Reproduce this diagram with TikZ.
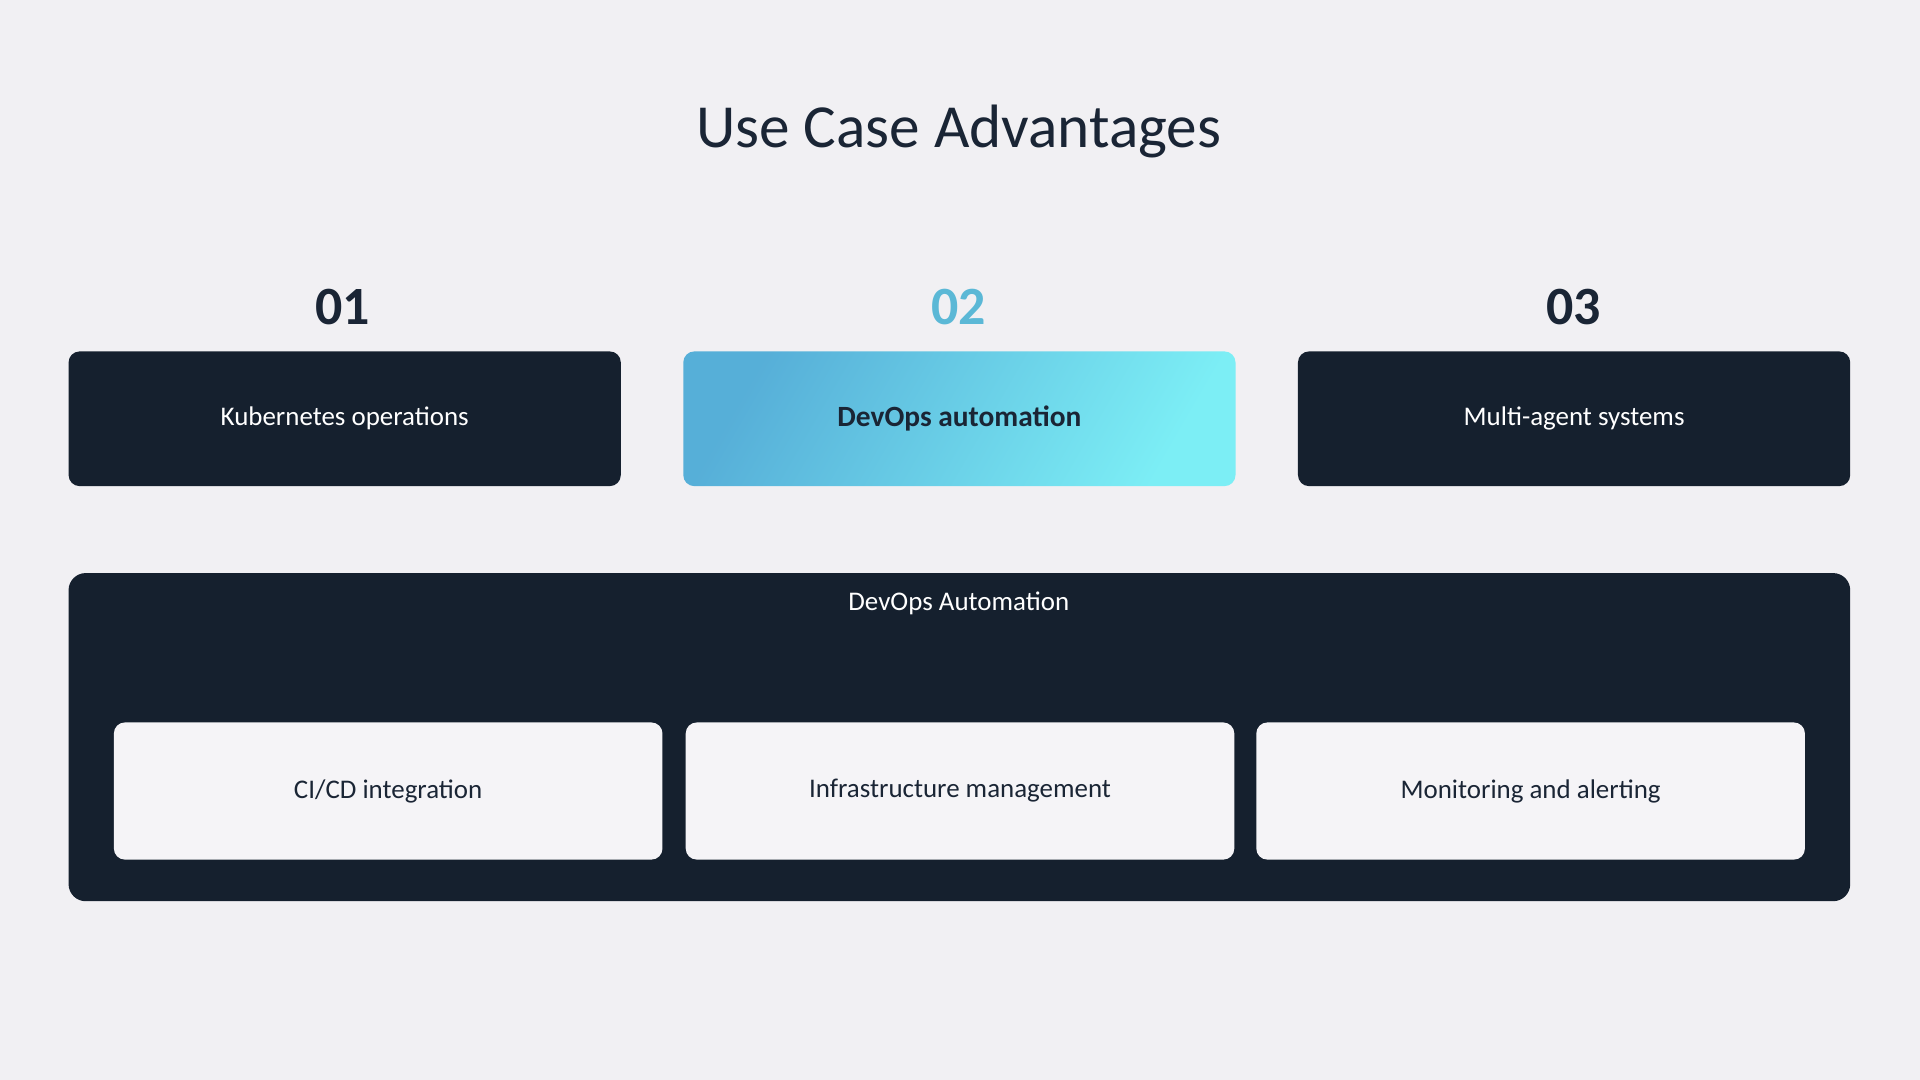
\documentclass[tikz,border=0pt]{standalone}
\usepackage{fontspec}
\setmainfont{Carlito}
\definecolor{bg}{HTML}{F1F0F3}
\definecolor{navy}{HTML}{15202E}
\definecolor{ink}{HTML}{1A2535}
\definecolor{teal}{HTML}{5BB8D6}
\definecolor{card}{HTML}{F5F4F7}
\begin{document}
\begin{tikzpicture}[x=1pt,y=-1pt,
  dark/.style={draw=none,fill=navy,rounded corners=9pt,minimum width=451pt,minimum height=110pt,text=white,font=\fontsize{22}{26}\selectfont},
  num/.style={font=\fontsize{44}{50}\selectfont\bfseries,text=ink},
  inner/.style={draw=none,fill=card,rounded corners=9pt,minimum width=448pt,minimum height=112pt,text=ink,font=\fontsize{22}{26}\selectfont}]
\path[use as bounding box,fill=bg] (0,0) rectangle (1568,882);
\node[font=\fontsize{50}{58}\selectfont,text=ink] (title) at (783,107) {Use Case Advantages};
\node[num] (n1) at (280,251) {01};
\node[num,text=teal] (n2) at (783,251) {02};
\node[num] (n3) at (1285,251) {03};
\node[dark] (b1) at (281.5,342) {Kubernetes operations};
\node[dark,fill=none,left color=teal!95!blue,right color=teal!40!cyan!60!white,shading angle=60,text=ink,font=\fontsize{24}{28}\selectfont\bfseries] (b2) at (783.5,342) {DevOps automation};
\node[dark] (b3) at (1285.5,342) {Multi-agent systems};
\node[draw=none,fill=navy,rounded corners=14pt,minimum width=1455pt,minimum height=268pt] (panel) at (783.5,602) {};
\node[text=white,font=\fontsize{22}{26}\selectfont] (ptitle) at (783,493) {DevOps Automation};
\node[inner] (c1) at (317,646) {CI/CD integration};
\node[inner] (c2) at (784,646) {Infrastructure management};
\node[inner] (c3) at (1250,646) {Monitoring and alerting};
\end{tikzpicture}
\end{document}
